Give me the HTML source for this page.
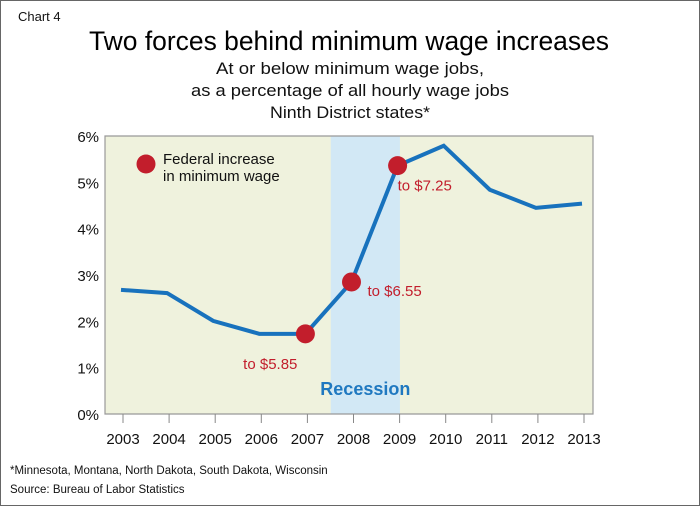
<!DOCTYPE html>
<html><head><meta charset="utf-8"><style>
html,body{margin:0;padding:0;background:#fff}
svg{display:block;font-family:"Liberation Sans",sans-serif}
</style></head><body>
<svg id="chart" width="700" height="506" viewBox="0 0 700 506">
<rect x="0.5" y="0.5" width="699" height="505" fill="#fff" stroke="#666"/>
<text x="18" y="21" font-size="13" fill="#111">Chart 4</text>
<text x="349" y="50" font-size="27" text-anchor="middle" fill="#000" textLength="520" lengthAdjust="spacingAndGlyphs">Two forces behind minimum wage increases</text>
<text x="350" y="74" font-size="17" text-anchor="middle" fill="#111" textLength="268" lengthAdjust="spacingAndGlyphs">At or below minimum wage jobs,</text>
<text x="350" y="96" font-size="17" text-anchor="middle" fill="#111" textLength="318" lengthAdjust="spacingAndGlyphs">as a percentage of all hourly wage jobs</text>
<text x="350" y="118" font-size="17" text-anchor="middle" fill="#111" textLength="160" lengthAdjust="spacingAndGlyphs">Ninth District states*</text>
<g id="plot"></g>
<text x="10" y="474" font-size="11.5" fill="#111">*Minnesota, Montana, North Dakota, South Dakota, Wisconsin</text>
<text x="10" y="493" font-size="11.5" fill="#111">Source: Bureau of Labor Statistics</text>
</svg>
<script>
const years = [2003,2004,2005,2006,2007,2008,2009,2010,2011,2012,2013];
const values = [2.68,2.61,2.01,1.73,1.73,2.85,5.36,5.79,4.84,4.45,4.54];
const yTicks = [0,1,2,3,4,5,6];
const yTickLabels = ["0%","1%","2%","3%","4%","5%","6%"];
const increaseYears = [2007,2008,2009];
const increaseLabels = ["to $5.85","to $6.55","to $7.25"];
const recession = [2007.55,2009.05];

const NS="http://www.w3.org/2000/svg";
const g=document.getElementById('plot');
const L=105,R=593,T=136,B=414;
const xs=y=>123+(y-2003)*46.1-2;
const ys=v=>B-(v/6)*(B-T);
function mk(tag,attrs,text){const e=document.createElementNS(NS,tag);for(const k in attrs)e.setAttribute(k,attrs[k]);if(text!=null)e.textContent=text;g.appendChild(e);return e;}

let e=mk('rect',{x:L,y:T,width:R-L,height:B-T,fill:'#eff2dd'});


e=mk('rect',{x:xs(recession[0]),y:T,width:xs(recession[1])-xs(recession[0]),height:B-T,fill:'#d2e8f5'});


e=mk('text',{x:(xs(recession[0])+xs(recession[1]))/2,y:395,'font-size':18,'font-weight':'bold',fill:'#1f78c0','text-anchor':'middle'},'Recession');


e=mk('path',{d:`M${L},${T}H${R}V${B}H${L}Z`,fill:'none',stroke:'#999','stroke-width':1.2});



yTicks.forEach((t,i)=>{
  const el=mk('text',{x:L-6,y:ys(t)+6,'font-size':15,fill:'#111','text-anchor':'end'},yTickLabels[i]);
  
  
});
years.forEach(yr=>{
  const x=xs(yr)+2;
  const tk=mk('line',{x1:x,x2:x,y1:B,y2:B+9,stroke:'#888','stroke-width':1});
  
  
  const el=mk('text',{x:x,y:B+30,'font-size':15,fill:'#111','text-anchor':'middle'},String(yr));
  
  
});

const line=mk('polyline',{points:years.map((y,i)=>xs(y)+','+ys(values[i])).join(' '),fill:'none',stroke:'#1872bd','stroke-width':4,'stroke-linejoin':'miter'});



const offs=[[-8,35,'end'],[16,14,'start'],[0,25,'start']];
increaseYears.forEach((yr,i)=>{
  const v=values[years.indexOf(yr)];
  const c=mk('circle',{cx:xs(yr),cy:ys(v),r:9.5,fill:'#c21e2c'});
  
  
  const t=mk('text',{x:xs(yr)+offs[i][0],y:ys(v)+offs[i][1],'font-size':15,fill:'#c21e2c','text-anchor':offs[i][2]},increaseLabels[i]);
  
  
});

e=mk('circle',{cx:146,cy:164,r:9.5,fill:'#c21e2c'});


e=mk('text',{x:163,y:164,'font-size':15,fill:'#111'},'Federal increase');


e=mk('text',{x:163,y:181,'font-size':15,fill:'#111'},'in minimum wage');


</script>
</body></html>
